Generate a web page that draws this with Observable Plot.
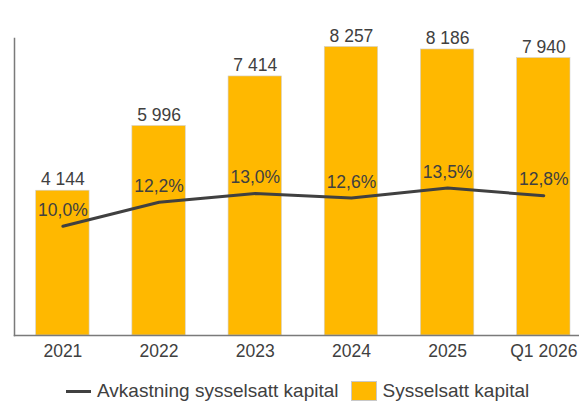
<!DOCTYPE html>
<html>
<head>
<meta charset="utf-8">
<script src="https://cdn.jsdelivr.net/npm/d3@7"></script>
<script src="https://cdn.jsdelivr.net/npm/@observablehq/plot@0.6"></script>
<style>
  body { margin: 0; background: #fff; font-family: "Liberation Sans", Arial, sans-serif; overflow: hidden; }
  #chart svg { display: block; }
  .legend { display: flex; align-items: center; height: 42px; padding-left: 66px; color: #404040; font-size: 19px; }
  .legend .line { width: 25px; height: 3px; background: #404040; margin-right: 6px; }
  .legend .box { width: 26px; height: 20px; background: #FFB800; border: 1px solid #c8c8c8; box-sizing: border-box; margin-left: 12px; margin-right: 6px; }
</style>
</head>
<body>
<div id="chart"></div>
<script>
const categories = ["2021", "2022", "2023", "2024", "2025", "Q1 2026"];
const capital = [4144, 5996, 7414, 8257, 8186, 7940];
const roce = [10.0, 12.2, 13.0, 12.6, 13.5, 12.8];
const seriesNames = ["Avkastning sysselsatt kapital", "Sysselsatt kapital"];

const yMax = 8500;   // primary axis top
const pctMax = 27.2; // secondary axis top (%)

const fmtNum = d => d3.format(",")(d).replace(/,/g, " ");
const fmtPct = d => d.toFixed(1).replace(".", ",") + "%";

const data = categories.map((c, i) => ({
  cat: c,
  cap: capital[i],
  roce: roce[i],
  roceY: roce[i] / pctMax * yMax
}));

const textColor = "#404040";
const font = "Liberation Sans, Arial, sans-serif";

const chart = Plot.plot({
  width: 579,
  height: 370,
  marginTop: 38,
  marginBottom: 35,
  marginLeft: 14,
  marginRight: 0,
  style: { fontFamily: font, color: textColor, background: "#fff" },
  x: { type: "band", domain: categories, range: [35.7, 570], paddingInner: 0.445, paddingOuter: 0, round: false },
  y: { domain: [0, yMax], axis: null },
  marks: [
    Plot.barY(data, { x: "cat", y: "cap", fill: "#FFB800", stroke: "#d0d0d0", strokeWidth: 0.6 }),
    Plot.frame({ anchor: "left", stroke: "#7a7a7a", strokeWidth: 1.5 }),
    Plot.frame({ anchor: "bottom", stroke: "#7a7a7a", strokeWidth: 1.5 }),
    Plot.axisX({ tickSize: 0, tickPadding: 9.5, fontSize: 17.5, label: null, color: textColor }),
    Plot.line(data, { x: "cat", y: "roceY", stroke: "#404040", strokeWidth: 3, curve: "linear" }),
    Plot.text(data, { x: "cat", y: "cap", text: d => fmtNum(d.cap), lineAnchor: "bottom", dy: -5.3, fontSize: 17.5, fill: textColor }),
    Plot.text(data, { x: "cat", y: "roceY", text: d => fmtPct(d.roce), lineAnchor: "bottom", dy: -10.3, fontSize: 17.5, fill: textColor })
  ]
});
document.getElementById("chart").appendChild(chart);

const legend = document.createElement("div");
legend.className = "legend";
legend.innerHTML = `<span class="line"></span><span>${seriesNames[0]}</span><span class="box"></span><span>${seriesNames[1]}</span>`;
document.body.appendChild(legend);
</script>
</body>
</html>
